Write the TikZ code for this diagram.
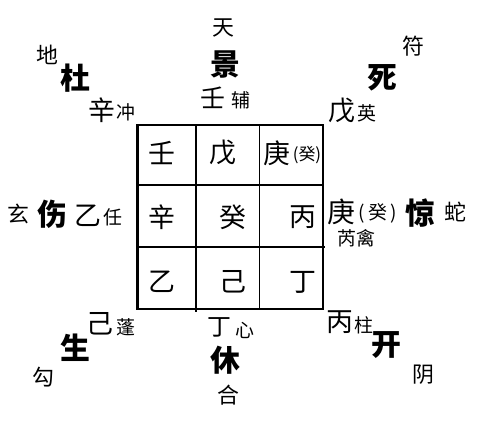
\documentclass[tikz,border=0pt]{standalone}
\usepackage{fontspec}
\setmainfont{Noto Sans CJK SC}
\begin{document}
\begin{tikzpicture}[x=1bp,y=-1bp,
  every node/.style={inner sep=0pt,outer sep=0pt,anchor=center},
  door/.style={font=\fontsize{30}{30}\selectfont\bfseries},
  deity/.style={font=\fontsize{22}{22}\selectfont},
  stem/.style={font=\fontsize{27}{27}\selectfont},
  star/.style={font=\fontsize{19}{19}\selectfont},
  cell/.style={font=\fontsize{27}{27}\selectfont},
  small/.style={font=\fontsize{17}{17}\selectfont},
  gridline/.style={line width=2.2bp},
  thinline/.style={line width=1.3bp}]
\useasboundingbox (0,0) rectangle (478,420);
\fill[white] (0,0) rectangle (478,420);
% grid
\coordinate (g00) at (137.5,125);
\coordinate (g11) at (322.7,309.3);
\draw[gridline] (g00) rectangle (g11);
\draw[gridline] (196,125) -- (196,312);
\draw[thinline] (259.3,125) -- (259.3,309.3);
\draw[gridline] (137.5,185) -- (322.7,185);
\draw[gridline] (137.5,246.7) -- (325,246.7);
% cell contents
\node[cell] (c1) at (162,153) {壬};
\node[cell] (c2) at (223,153) {戊};
\node[cell] (c3) at (277,153) {庚};
\node[small] (c3b) at (307,155) {(癸)};
\node[cell] (c4) at (162,217) {辛};
\node[cell] (c5) at (233,217) {癸};
\node[cell] (c6) at (303,217) {丙};
\node[cell] (c7) at (162,282) {乙};
\node[cell] (c8) at (233,282) {己};
\node[cell] (c9) at (303,282) {丁};
% top
\node[deity] (tian) at (223,28) {天};
\node[door] (jing) at (225,65) {景};
\node[stem,font=\fontsize{25}{25}\selectfont] (ren) at (213,98) {壬};
\node[star] (fu) at (241,100) {辅};
% top left
\node[deity] (di) at (47,55) {地};
\node[door] (du) at (75,78) {杜};
\node[stem] (xin) at (102,110) {辛};
\node[star] (chong) at (126,112) {冲};
% top right
\node[deity] (fuu) at (413,46) {符};
\node[door] (si) at (382,78) {死};
\node[stem] (wu) at (342,111) {戊};
\node[star] (ying) at (367,113) {英};
% left
\node[deity] (xuan) at (18,214) {玄};
\node[door] (shang) at (52,214) {伤};
\node[stem] (yi) at (88,216) {乙};
\node[star] (renx) at (113,217) {任};
% right
\node[stem,font=\fontsize{28}{28}\selectfont] (geng) at (341,212) {庚};
\node[star] (gui) at (378,213) {(\,癸\,)};
\node[door] (jingx) at (420,213) {惊};
\node[deity] (she) at (455,212) {蛇};
\node[star] (ruiqin) at (356,238) {芮禽};
% bottom left
\node[stem] (ji) at (100,324) {己};
\node[star] (peng) at (126,327) {蓬};
\node[door] (sheng) at (75,348) {生};
\node[deity] (gou) at (43,377) {勾};
% bottom
\node[stem,font=\fontsize{24}{24}\selectfont] (ding) at (219,327) {丁};
\node[star] (xin2) at (245,330) {心};
\node[door] (xiu) at (225,360) {休};
\node[deity] (he) at (228,395) {合};
% bottom right
\node[stem] (bing) at (340,322) {丙};
\node[star] (zhu) at (364,325) {柱};
\node[door] (kai) at (386,345) {开};
\node[deity] (yin) at (423,375) {阴};
\end{tikzpicture}
\end{document}
